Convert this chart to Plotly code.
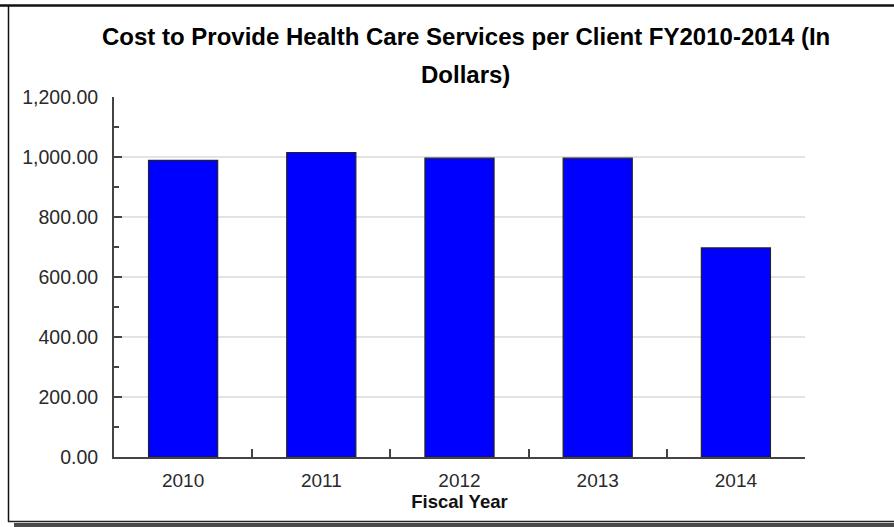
import plotly.graph_objects as go

# Cost per client by fiscal year (dollars)
years = ["2010", "2011", "2012", "2013", "2014"]
cost_per_client = [989, 1015, 996, 996, 697]

title_line1 = "Cost to Provide Health Care Services per Client FY2010-2014 (In"
title_line2 = "Dollars)"
x_title = "Fiscal Year"

W, H = 894, 527
L, R, T, B = 114, 89, 97, 70
PW, PH = W - L - R, H - T - B


def px_x(px):
    return (px - L) / PW


def px_y(py):
    return (H - B - py) / PH


FONT = "Liberation Sans, Arial, sans-serif"

fig = go.Figure()
fig.add_trace(go.Bar(
    x=years,
    y=cost_per_client,
    marker=dict(color="#0000FF", line=dict(color="#222222", width=1.2)),
    hoverinfo="x+y",
))

fig.update_layout(
    width=W,
    height=H,
    margin=dict(l=L, r=R, t=T, b=B),
    paper_bgcolor="white",
    plot_bgcolor="white",
    showlegend=False,
    bargap=0.5,
    font=dict(family=FONT, color="#2a2a2a", size=19),
    xaxis=dict(
        type="category",
        showgrid=False,
        showline=True,
        linecolor="#444444",
        linewidth=2,
        ticks="inside",
        tickson="boundaries",
        ticklen=8,
        tickwidth=2,
        tickcolor="#444444",
        tickfont=dict(size=19, color="#2a2a2a"),
        ticklabelstandoff=5,
        title=dict(text="<b>" + x_title + "</b>",
                   font=dict(size=18.5, color="#111111"), standoff=4),
    ),
    yaxis=dict(
        range=[0, 1200],
        tick0=0,
        dtick=200,
        tickformat=",.2f",
        showgrid=True,
        gridcolor="#e3e3e3",
        gridwidth=2,
        zeroline=False,
        showline=True,
        linecolor="#444444",
        linewidth=2,
        ticks="inside",
        ticklen=8,
        tickwidth=2,
        tickcolor="#444444",
        tickfont=dict(size=19.5, color="#2a2a2a"),
        ticklabelstandoff=10,
        minor=dict(dtick=100, ticks="inside", ticklen=5, tickwidth=2,
                   tickcolor="#444444", showgrid=False),
    ),
)

# Two-line bold title
for text, ypx in [(title_line1, 37), (title_line2, 74)]:
    fig.add_annotation(
        text="<b>" + text + "</b>",
        xref="paper", yref="paper",
        x=px_x(466), y=px_y(ypx),
        xanchor="center", yanchor="middle",
        showarrow=False,
        font=dict(family=FONT, size=24, color="#000000"),
    )

# Chart frame with drop shadow
frame = [
    dict(type="line", x0=px_x(0), x1=px_x(W), y0=px_y(5.5), y1=px_y(5.5),
         line=dict(color="#111111", width=2.5)),
    dict(type="line", x0=px_x(8.5), x1=px_x(8.5), y0=px_y(5), y1=px_y(522),
         line=dict(color="#111111", width=1.5)),
    dict(type="line", x0=px_x(8), x1=px_x(W), y0=px_y(521.5), y1=px_y(521.5),
         line=dict(color="#222222", width=1.5)),
    dict(type="rect", x0=px_x(14), x1=px_x(W), y0=px_y(523), y1=px_y(527.5),
         line=dict(width=0), fillcolor="#4a4a4a"),
]
for s in frame:
    s.update(xref="paper", yref="paper", layer="above")
    fig.add_shape(**s)

fig.write_html("out.html")
